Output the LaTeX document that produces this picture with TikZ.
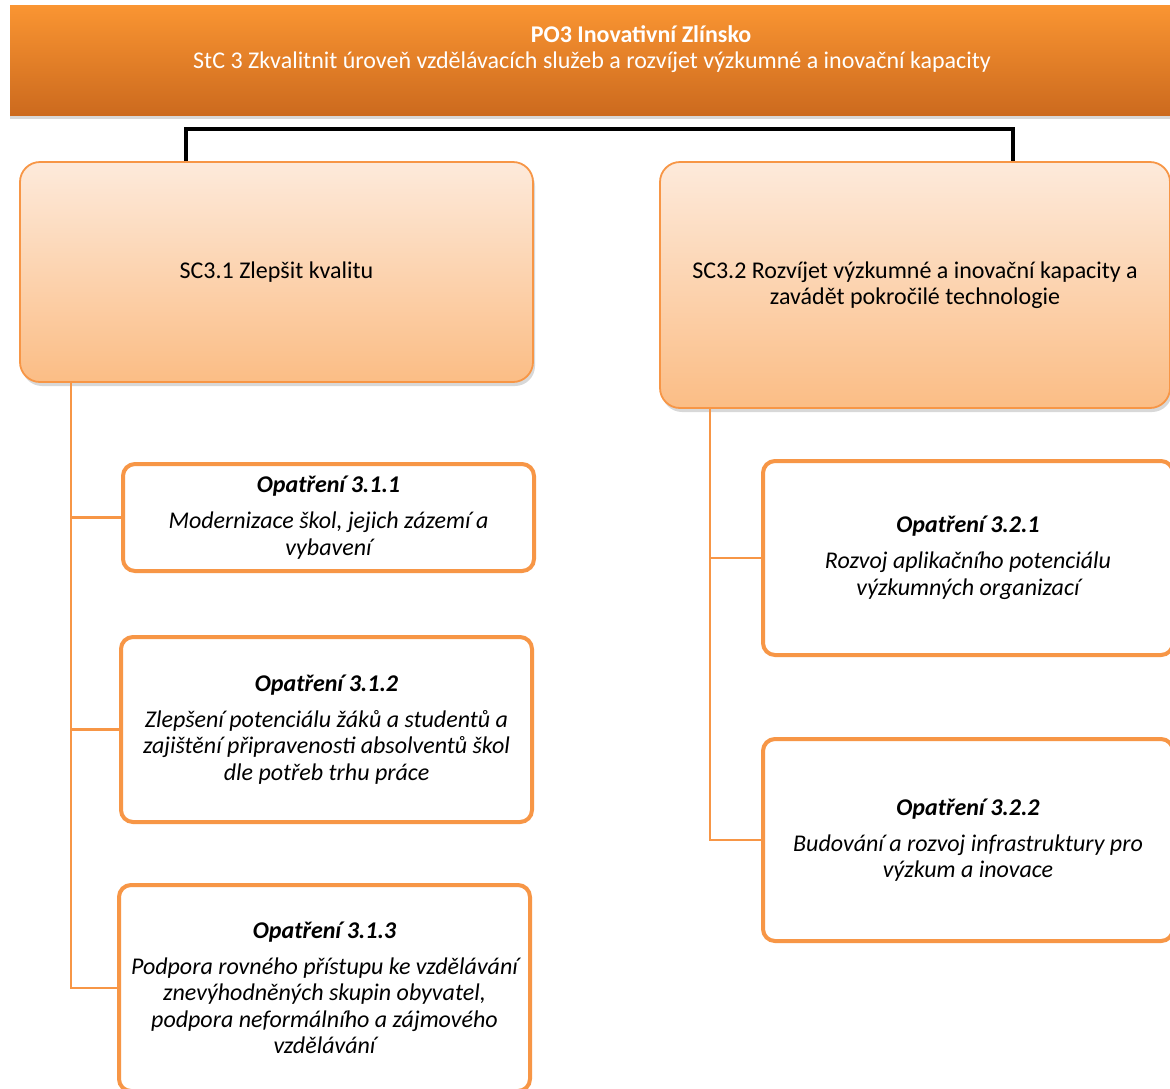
\documentclass[tikz,border=0pt]{standalone}
\usepackage{fontspec}
\setmainfont{Carlito}
\usetikzlibrary{shadows,calc}
\definecolor{orb}{HTML}{F79646}
\definecolor{hdtop}{HTML}{FA9532}
\definecolor{hdbot}{HTML}{CC6A1E}
\definecolor{sctop}{HTML}{FDEADB}
\definecolor{scbot}{HTML}{FBBD85}
\newcommand{\bfont}{\fontsize{24}{26.5}\selectfont}
\tikzset{
  hdrbox/.style={rectangle, draw=none, top color=hdtop, bottom color=hdbot,
    drop shadow={opacity=0.3, shadow xshift=0pt, shadow yshift=-4pt}, inner sep=0pt},
  hdrtext/.style={text=white, inner sep=0pt, font=\bfont},
  scbox/.style={rectangle, rounded corners=20pt, draw=orb, line width=1.8pt,
    top color=sctop, bottom color=scbot, inner sep=0pt, align=center,
    drop shadow={opacity=0.3, shadow xshift=2pt, shadow yshift=-4pt},
    font=\bfont},
  opbox/.style={rectangle, rounded corners=12pt, draw=orb, line width=4pt,
    fill=white, inner sep=0pt, align=center,
    font=\bfont\itshape},
  orconn/.style={draw=orb, line width=2.2pt},
  blconn/.style={draw=black, line width=4pt}
}
\begin{document}
\begin{tikzpicture}[x=1pt,y=-1pt]
\useasboundingbox (0,0) rectangle (1170,1088);
\clip (0,0) rectangle (1170,1088);
\fill[white] (0,0) rectangle (1170,1088);

% header
\node[hdrbox, minimum width=1166pt, minimum height=110pt] (hdr) at (593,60) {};
\node[hdrtext, font=\bfont\bfseries] (hdrt1) at (641,34) {PO3 Inovativní Zlínsko};
\node[hdrtext] (hdrt2) at (592,62) {StC 3 Zkvalitnit úroveň vzdělávacích služeb a rozvíjet výzkumné a inovační kapacity};

% level 2
\node[scbox, minimum width=513pt, minimum height=220pt] (sc31) at (276.5,272) {SC3.1 Zlepšit kvalitu};
\node[scbox, minimum width=510pt, minimum height=246pt] (sc32) at (915,285)
  {SC3.2 Rozvíjet výzkumné a inovační kapacity a\\zavádět pokročilé technologie};

% bracket
\coordinate (bl) at ($(sc31.north west)!0.325!(sc31.north east)$);
\coordinate (br) at ($(sc32.north west)!0.692!(sc32.north east)$);
\draw[blconn] (bl) -- ++(0,-32) -| (br);

% measures
\node[opbox, minimum width=411pt, minimum height=107pt] (o311) at (328.5,517.5)
  {{\bfseries Opatření 3.1.1}\\[9.5pt]Modernizace škol, jejich zázemí a\\vybavení};
\node[opbox, minimum width=411pt, minimum height=185pt] (o312) at (326.5,729.5)
  {{\bfseries Opatření 3.1.2}\\[9.5pt]Zlepšení potenciálu žáků a studentů a\\zajištění připravenosti absolventů škol\\dle potřeb trhu práce};
\node[opbox, minimum width=411pt, minimum height=206pt] (o313) at (324.5,988)
  {{\bfseries Opatření 3.1.3}\\[9.5pt]Podpora rovného přístupu ke vzdělávání\\znevýhodněných skupin obyvatel,\\podpora neformálního a zájmového\\vzdělávání};
\node[opbox, minimum width=410pt, minimum height=194pt] (o321) at (968,558)
  {{\bfseries Opatření 3.2.1}\\[9.5pt]Rozvoj aplikačního potenciálu\\výzkumných organizací};
\node[opbox, minimum width=410pt, minimum height=202pt] (o322) at (968,840)
  {{\bfseries Opatření 3.2.2}\\[9.5pt]Budování a rozvoj infrastruktury pro\\výzkum a inovace};

% orange connectors
\coordinate (s1) at ($(sc31.south west)!0.1014!(sc31.south east)$);
\coordinate (s2) at ($(sc32.south west)!0.1!(sc32.south east)$);
\draw[orconn] (s1) |- (o311.west);
\draw[orconn] (s1) |- (o312.west);
\draw[orconn] (s1) |- (o313.west);
\draw[orconn] (s2) |- (o321.west);
\draw[orconn] (s2) |- (o322.west);
\end{tikzpicture}
\end{document}
